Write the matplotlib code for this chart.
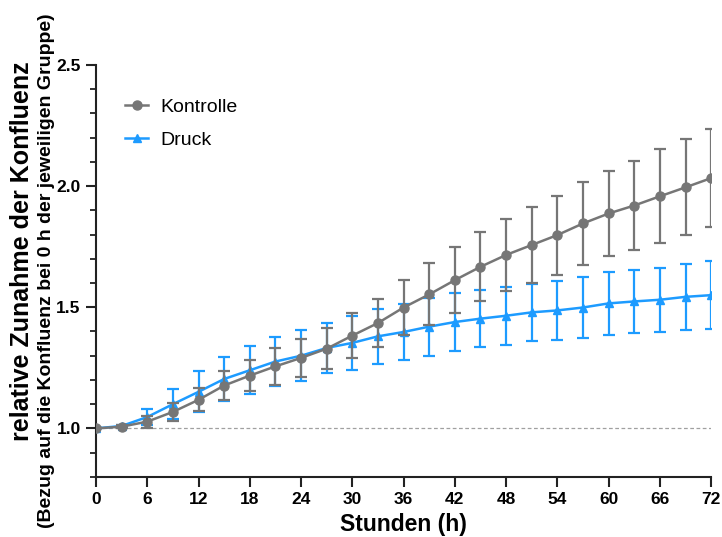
"""Relative confluence growth over time, control vs. pressure."""

import matplotlib

matplotlib.use("Agg")
import matplotlib.pyplot as plt
from matplotlib.lines import Line2D
from matplotlib.ticker import MultipleLocator

plt.rcParams["font.family"] = ["Liberation Sans", "DejaVu Sans"]

hours = [0, 3, 6, 9, 12, 15, 18, 21, 24, 27, 30, 33, 36,
         39, 42, 45, 48, 51, 54, 57, 60, 63, 66, 69, 72]

kontrolle_mean = [1.000, 1.007, 1.028, 1.068, 1.118, 1.177, 1.218, 1.256, 1.291,
                  1.329, 1.383, 1.435, 1.499, 1.553, 1.612, 1.667, 1.716, 1.757,
                  1.798, 1.846, 1.887, 1.920, 1.958, 1.995, 2.033]
kontrolle_sd = [0.000, 0.005, 0.025, 0.038, 0.048, 0.060, 0.065, 0.075, 0.077,
                0.085, 0.092, 0.100, 0.115, 0.128, 0.135, 0.142, 0.150, 0.155,
                0.163, 0.170, 0.175, 0.184, 0.194, 0.198, 0.203]

druck_mean = [1.000, 1.010, 1.047, 1.100, 1.151, 1.204, 1.240, 1.276, 1.300,
              1.332, 1.353, 1.380, 1.398, 1.420, 1.439, 1.453, 1.465, 1.479,
              1.487, 1.499, 1.516, 1.524, 1.531, 1.543, 1.550]
druck_sd = [0.000, 0.005, 0.035, 0.063, 0.085, 0.090, 0.100, 0.100, 0.105,
            0.105, 0.110, 0.113, 0.117, 0.120, 0.120, 0.118, 0.120, 0.118,
            0.122, 0.125, 0.130, 0.130, 0.133, 0.137, 0.140]

GRAY = "#767676"
BLUE = "#1d9bff"

fig = plt.figure(figsize=(7.22, 5.37), dpi=100)
ax = fig.add_axes([0.133, 0.112, 0.852, 0.767])

# baseline at 1.0
ax.axhline(1.0, color="#a0a0a0", lw=0.9, ls=(0, (3, 2)), zorder=1)

ax.errorbar(hours, druck_mean, yerr=druck_sd, color=BLUE, marker="^", ms=6,
            lw=1.8, elinewidth=1.6, capsize=4, capthick=1.6, zorder=3)
ax.errorbar(hours, kontrolle_mean, yerr=kontrolle_sd, color=GRAY, marker="o", ms=6.5,
            lw=1.8, elinewidth=1.6, capsize=4, capthick=1.6, zorder=4)

ax.set_xlim(0, 72)
ax.set_ylim(0.8, 2.5)
ax.xaxis.set_major_locator(MultipleLocator(6))
ax.yaxis.set_major_locator(MultipleLocator(0.5))
ax.yaxis.set_minor_locator(MultipleLocator(0.1))
ax.yaxis.set_major_formatter(plt.FuncFormatter(lambda v, _: f"{v:.1f}"))

for side in ("top", "right"):
    ax.spines[side].set_visible(False)
for side in ("left", "bottom"):
    ax.spines[side].set_linewidth(1.5)
    ax.spines[side].set_color("#222222")

ax.tick_params(axis="both", which="major", length=7, width=1.5, color="#222222",
               labelsize=12.5, pad=4)
ax.tick_params(axis="y", which="minor", length=4, width=1.3, color="#222222")
for lbl in ax.get_xticklabels() + ax.get_yticklabels():
    lbl.set_fontweight("bold")

ax.set_xlabel("Stunden (h)", fontsize=16.5, fontweight="bold", labelpad=4)

fig.text(22 / 722, 1 - 251 / 537, "relative Zunahme der Konfluenz", rotation=90,
         ha="center", va="center", fontsize=18, fontweight="bold")
fig.text(47 / 722, 1 - 271 / 537, "(Bezug auf die Konfluenz bei 0 h der jeweiligen Gruppe)",
         rotation=90, ha="center", va="center", fontsize=14, fontweight="bold")

# legend: line + marker only, no error caps
handles = [
    Line2D([], [], color=GRAY, marker="o", ms=6.5, lw=1.8),
    Line2D([], [], color=BLUE, marker="^", ms=6, lw=1.8),
]
ax.legend(handles, ["Kontrolle", "Druck"], loc="upper left",
          bbox_to_anchor=(0.047, 0.92), frameon=False, fontsize=14,
          handlelength=1.2, handletextpad=0.6, labelspacing=0.8,
          borderpad=0, borderaxespad=0)

fig.savefig("out.png", dpi=100)
